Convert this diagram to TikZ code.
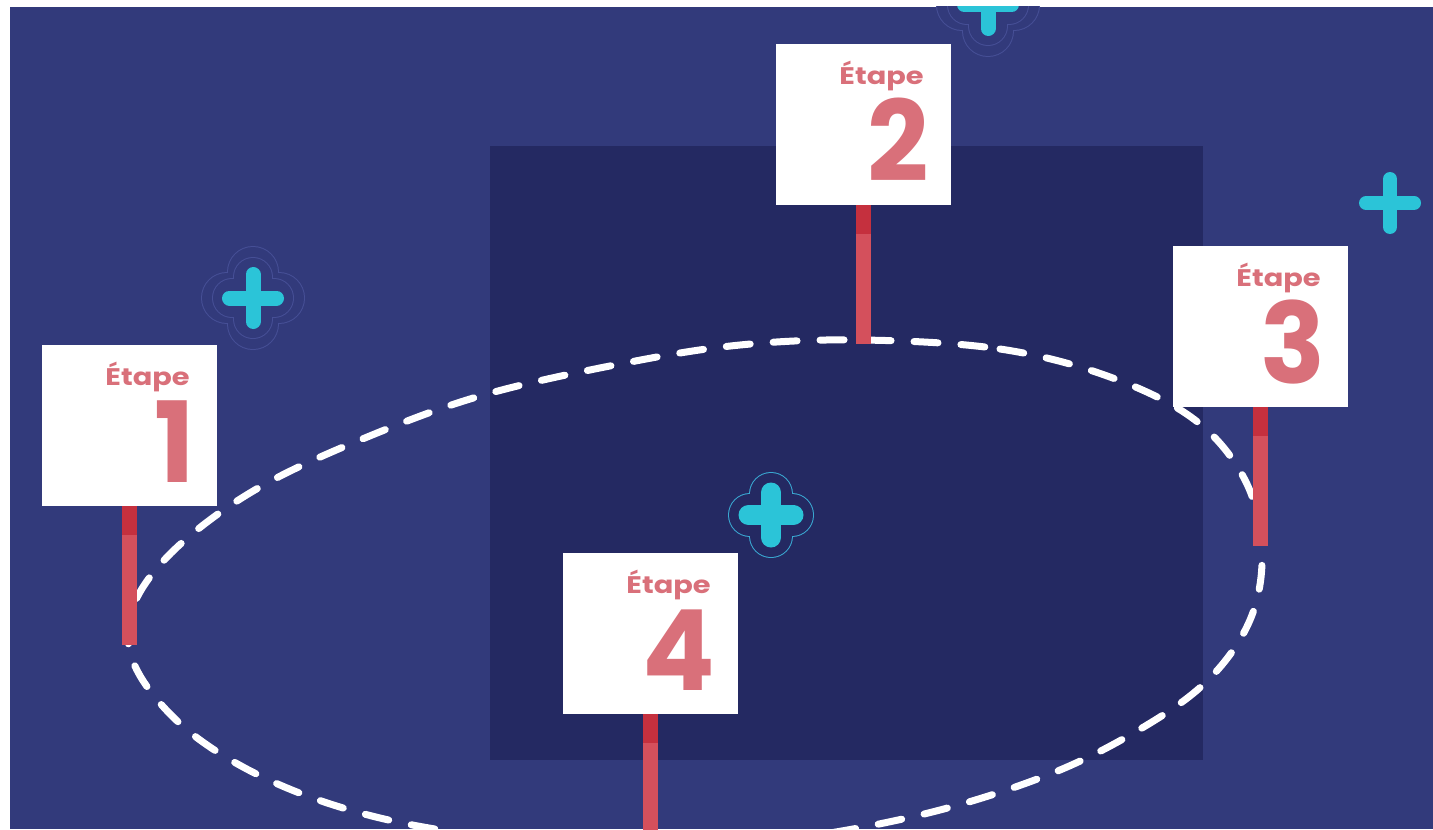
\documentclass[tikz,border=0pt]{standalone}
\usepackage{fontspec}
\setmainfont{Poppins}
\newfontfamily\etapefont{Poppins}[FakeStretch=1.2]
\newfontfamily\numfont{Poppins}[FakeStretch=0.96]
\definecolor{pagewhite}{HTML}{FFFFFF}
\definecolor{bgblue}{HTML}{323A7B}
\definecolor{darkblue}{HTML}{242962}
\definecolor{ringblue}{HTML}{464F96}
\definecolor{ringcyan}{HTML}{3AA8D2}
\definecolor{plusc}{HTML}{2BC4D8}
\definecolor{signtext}{HTML}{D9707A}
\definecolor{postred}{HTML}{D4505C}
\definecolor{postdark}{HTML}{C5303E}
\tikzset{
  signbox/.style={fill=white, draw=none, minimum width=87.5pt, minimum height=80.5pt, inner sep=0pt, anchor=north west},
  etapetext/.style={text=signtext, font=\etapefont\bfseries\fontsize{12}{14}\selectfont, inner sep=0pt, anchor=base east},
  numtext/.style={text=signtext, font=\numfont\bfseries\fontsize{56}{58}\selectfont, inner sep=0pt, anchor=base east},
  loop/.style={white, line width=3.5pt, line cap=round, dash pattern=on 12pt off 11.5pt},
}
% sign: name, left, top, number
\newcommand\etapesign[4]{%
  \fill[postred] (#2+80,#3+161) rectangle (#2+95,#3+300);
  \fill[postdark] (#2+80,#3+161) rectangle (#2+95,#3+190);
  \node[signbox] (#1) at (#2,#3) {};
  \node[etapetext] (#1e) at (#2+148,#3+40) {Étape};
  \node[numtext] (#1n) at (#2+153,#3+137) {#4};
}
% cross: x, y, half length of line, line width
\newcommand\crossmark[5][plusc]{%
  \draw[#1, line width=#5, line cap=round] (#2-#4,#3) -- (#2+#4,#3) (#2,#3-#4) -- (#2,#3+#4);
}
\begin{document}
\begin{tikzpicture}[x=0.5pt, y=-0.5pt]
\useasboundingbox (0,0) rectangle (1433,829);
\fill[pagewhite] (0,0) rectangle (1433,829);
\clip (10,7) rectangle (1433,829);
\fill[bgblue] (10,7) rectangle (1433,829);
\fill[darkblue] (490,146) rectangle (1203,760);

% dashed loop
\draw[loop] plot[smooth cycle, tension=0.6] coordinates {
 (862,340) (1000,349) (1110,377) (1195,420) (1245,480) (1262,550) (1250,620)
 (1205,683) (1130,735) (1040,778) (920,815) (780,840) (640,848) (500,838)
 (380,818) (280,785) (200,740) (148,688) (128,640) (140,592) (185,540)
 (260,487) (360,440) (480,396) (620,364) (740,345)};

% crosses with rings
\crossmark[ringblue]{253}{298}{26}{26pt}
\crossmark[bgblue]{253}{298}{26}{25pt}
\crossmark[ringblue]{253}{298}{21}{20pt}
\crossmark[bgblue]{253}{298}{21}{19pt}
\crossmark{253}{298}{23.5}{7.5pt}

\crossmark[ringcyan]{771}{515}{21}{22pt}
\crossmark[darkblue]{771}{515}{21}{21pt}
\crossmark{771}{515}{22.5}{10pt}

\crossmark[ringblue]{988}{5}{26}{26pt}
\crossmark[bgblue]{988}{5}{26}{25pt}
\crossmark[ringblue]{988}{5}{21}{20pt}
\crossmark[bgblue]{988}{5}{21}{19pt}
\crossmark{988}{5}{23.5}{7.5pt}

\crossmark{1390}{203}{24}{7pt}

% signs
\etapesign{s1}{42}{345}{1}
\etapesign{s2}{776}{44}{2}
\etapesign{s3}{1173}{246}{3}
\etapesign{s4}{563}{553}{4}
\end{tikzpicture}
\end{document}
